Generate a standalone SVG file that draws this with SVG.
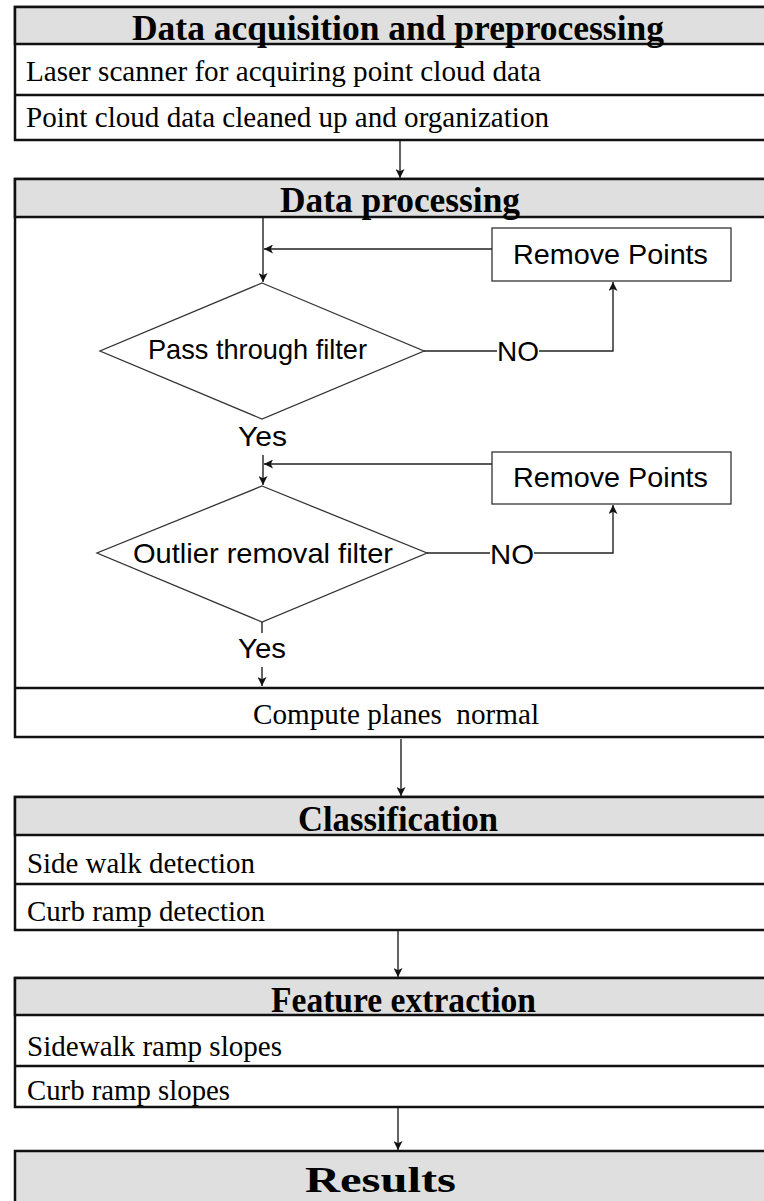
<svg xmlns="http://www.w3.org/2000/svg" width="764" height="1201" viewBox="0 0 764 1201">
  <style>
    .panel { fill: #ffffff; stroke: #111111; stroke-width: 2.5; }
    .band { fill: #dfdfdf; stroke: #111111; stroke-width: 2.5; }
    .rule { stroke: #111111; stroke-width: 2.5; fill: none; }
    .head { font-family: "Liberation Serif", "Times New Roman", serif; font-weight: bold; font-size: 35px; fill: #000; }
    .item { font-family: "Liberation Serif", "Times New Roman", serif; font-size: 29px; fill: #000; }
    .flow { font-family: "Liberation Sans", Arial, sans-serif; font-size: 28px; fill: #000; }
    .step { fill: #ffffff; stroke: #333333; stroke-width: 1.3; }
    .wire { stroke: #222222; stroke-width: 1.4; fill: none; }
  </style>
  <defs>
    <marker id="tip" viewBox="0 0 10 10" refX="10" refY="5" markerWidth="9" markerHeight="9" markerUnits="userSpaceOnUse" orient="auto">
      <path d="M0,0 L10,5 L0,10 L2.5,5 Z" fill="#111111"/>
    </marker>
  </defs>

  <rect x="0" y="0" width="764" height="1201" fill="#ffffff"/>

  <!-- Stage 1 -->
  <g id="acquisition">
    <rect class="panel" x="15" y="7" width="770" height="133"/>
    <rect class="band" x="15" y="7" width="770" height="37"/>
    <line class="rule" x1="15" y1="95" x2="780" y2="95"/>
    <text class="head" x="132" y="40" textLength="532" lengthAdjust="spacingAndGlyphs">Data acquisition and preprocessing</text>
    <text class="item" x="26" y="81" textLength="515" lengthAdjust="spacingAndGlyphs">Laser scanner for acquiring point cloud data</text>
    <text class="item" x="26" y="127" textLength="523" lengthAdjust="spacingAndGlyphs">Point cloud data cleaned up and organization</text>
  </g>

  <!-- Stage 2 -->
  <g id="processing">
    <rect class="panel" x="15" y="179" width="770" height="558"/>
    <rect class="band" x="15" y="179" width="770" height="38"/>
    <line class="rule" x1="15" y1="688" x2="780" y2="688"/>
    <text class="head" x="280" y="212" textLength="240" lengthAdjust="spacingAndGlyphs">Data processing</text>
    <text class="item" x="253" y="724" textLength="286" lengthAdjust="spacingAndGlyphs" xml:space="preserve">Compute planes  normal</text>
  </g>

  <g id="remove-points-1">
    <rect class="step" x="492" y="228" width="239" height="53"/>
    <text class="flow" x="513" y="264" textLength="195" lengthAdjust="spacingAndGlyphs">Remove Points</text>
  </g>

  <g id="pass-through-filter">
    <polygon class="step" points="262,283 424,351 262,419 100,351"/>
    <text class="flow" x="148" y="359" textLength="219" lengthAdjust="spacingAndGlyphs">Pass through filter</text>
  </g>

  <g id="remove-points-2">
    <rect class="step" x="492" y="452" width="239" height="52"/>
    <text class="flow" x="513" y="487" textLength="195" lengthAdjust="spacingAndGlyphs">Remove Points</text>
  </g>

  <g id="outlier-removal-filter">
    <polygon class="step" points="262,486 427,553 262,622 97,553"/>
    <text class="flow" x="133" y="563" textLength="260" lengthAdjust="spacingAndGlyphs">Outlier removal filter</text>
  </g>

  <!-- Stage 3 -->
  <g id="classification">
    <rect class="panel" x="15" y="797" width="770" height="133"/>
    <rect class="band" x="15" y="797" width="770" height="38"/>
    <line class="rule" x1="15" y1="884" x2="780" y2="884"/>
    <text class="head" x="298" y="831" textLength="200" lengthAdjust="spacingAndGlyphs">Classification</text>
    <text class="item" x="27" y="873" textLength="228" lengthAdjust="spacingAndGlyphs">Side walk detection</text>
    <text class="item" x="27" y="921" textLength="238" lengthAdjust="spacingAndGlyphs">Curb ramp detection</text>
  </g>

  <!-- Stage 4 -->
  <g id="feature-extraction">
    <rect class="panel" x="15" y="978" width="770" height="129"/>
    <rect class="band" x="15" y="978" width="770" height="37"/>
    <line class="rule" x1="15" y1="1066" x2="780" y2="1066"/>
    <text class="head" x="271" y="1012" textLength="265" lengthAdjust="spacingAndGlyphs">Feature extraction</text>
    <text class="item" x="27" y="1056" textLength="255" lengthAdjust="spacingAndGlyphs">Sidewalk ramp slopes</text>
    <text class="item" x="27" y="1100" textLength="203" lengthAdjust="spacingAndGlyphs">Curb ramp slopes</text>
  </g>

  <!-- Stage 5 -->
  <g id="results">
    <rect class="band" x="15" y="1151" width="770" height="70"/>
    <text class="head" x="305" y="1192" font-size="39" textLength="151" lengthAdjust="spacingAndGlyphs">Results</text>
  </g>

  <!-- Connectors -->
  <g id="connectors">
    <line class="wire" x1="400" y1="141" x2="400" y2="178" marker-end="url(#tip)"/>
    <line class="wire" x1="263" y1="218" x2="263" y2="282" marker-end="url(#tip)"/>
    <line class="wire" x1="492" y1="249" x2="264" y2="249" marker-end="url(#tip)"/>
    <line class="wire" x1="424" y1="351" x2="497" y2="351"/>
    <polyline class="wire" points="539,351 613,351 613,282" marker-end="url(#tip)"/>
    <text class="flow" x="497" y="361" textLength="42" lengthAdjust="spacingAndGlyphs">NO</text>
    <text class="flow" x="238" y="446" textLength="49" lengthAdjust="spacingAndGlyphs">Yes</text>
    <line class="wire" x1="263" y1="455" x2="263" y2="485" marker-end="url(#tip)"/>
    <line class="wire" x1="492" y1="464" x2="264" y2="464" marker-end="url(#tip)"/>
    <line class="wire" x1="427" y1="553" x2="490" y2="553"/>
    <polyline class="wire" points="534,553 613,553 613,505" marker-end="url(#tip)"/>
    <text class="flow" x="490" y="564" textLength="44" lengthAdjust="spacingAndGlyphs">NO</text>
    <line class="wire" x1="262" y1="622" x2="262" y2="633"/>
    <text class="flow" x="238" y="658" textLength="48" lengthAdjust="spacingAndGlyphs">Yes</text>
    <line class="wire" x1="262" y1="667" x2="262" y2="686" marker-end="url(#tip)"/>
    <line class="wire" x1="401" y1="739" x2="401" y2="796" marker-end="url(#tip)"/>
    <line class="wire" x1="398" y1="931" x2="398" y2="977" marker-end="url(#tip)"/>
    <line class="wire" x1="398" y1="1108" x2="398" y2="1150" marker-end="url(#tip)"/>
  </g>
</svg>
